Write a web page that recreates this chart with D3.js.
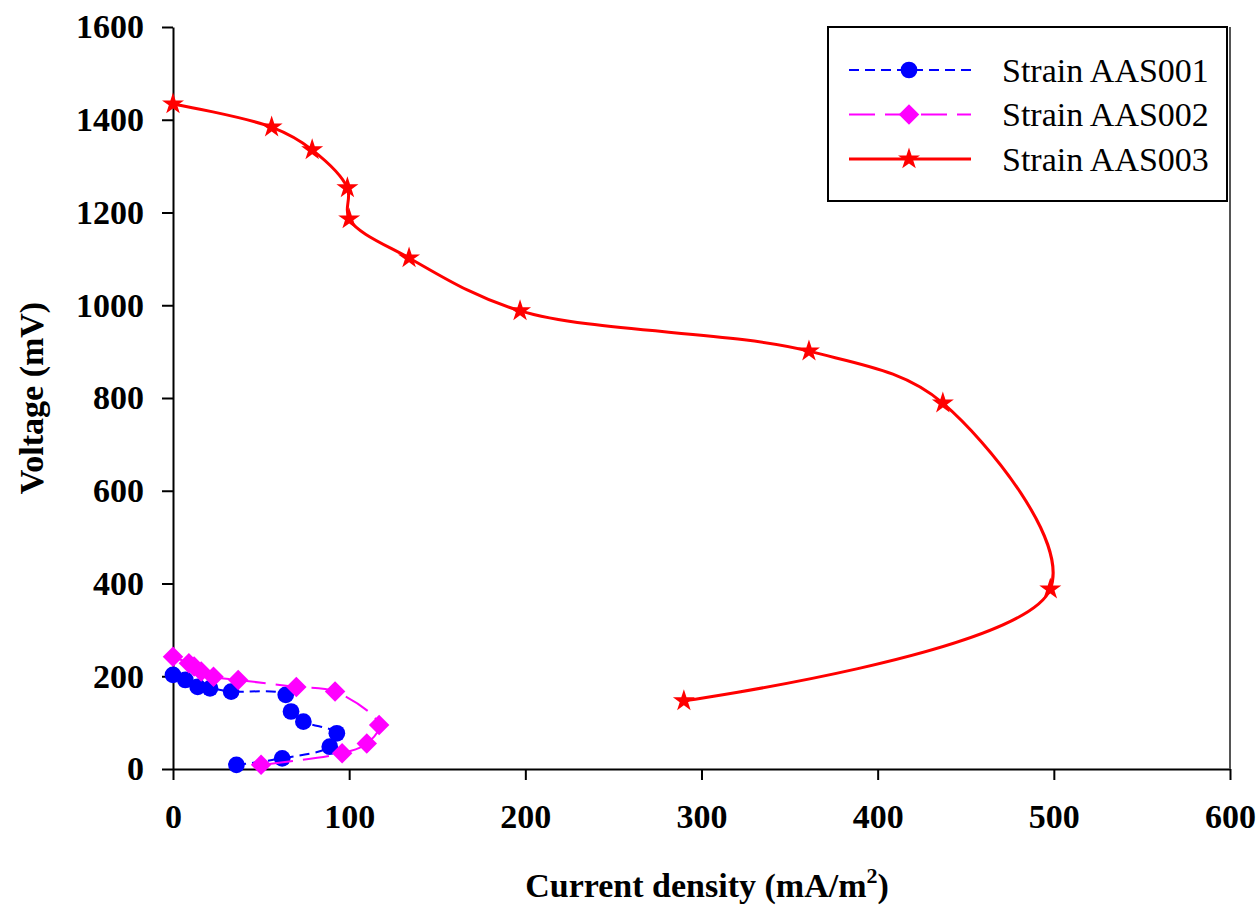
<!DOCTYPE html>
<html>
<head>
<meta charset="utf-8">
<script src="https://cdn.jsdelivr.net/npm/d3@7"></script>
<style>
  body { margin: 0; background: #fff; }
  svg { display: block; }
</style>
</head>
<body>
<div id="chart"></div>
<script>
// Polarization curves
const currentAAS001 = [0, 7, 14, 21, 33, 64, 67, 74, 93, 89, 62, 36];
const voltageAAS001 = [203, 192, 177, 174, 167, 160, 124, 102, 77, 48, 23, 9];

const currentAAS002 = [0, 9, 12, 16, 23, 37, 70, 92, 117, 110, 96, 50];
const voltageAAS002 = [242, 228, 221, 210, 199, 192, 177, 167, 95, 55, 34, 9];

const currentAAS003 = [0, 56, 79, 99, 100, 134, 197, 361, 437, 498, 290];
const voltageAAS003 = [1434, 1384, 1335, 1253, 1186, 1102, 988, 901, 789, 388, 147];

const seriesNames = ["Strain AAS001", "Strain AAS002", "Strain AAS003"];
const xTicks = [0, 100, 200, 300, 400, 500, 600];
const yTicks = [0, 200, 400, 600, 800, 1000, 1200, 1400, 1600];

const serif = "'Liberation Serif', 'Times New Roman', Times, serif";

// Dimensions
const W = 1260, H = 907;
const margin = { top: 27, right: 30, bottom: 138, left: 173 };
const width = W - margin.left - margin.right;
const height = H - margin.top - margin.bottom;

const svg = d3.select("#chart").append("svg")
    .attr("width", W)
    .attr("height", H)
    .style("font-family", serif);

const g = svg.append("g")
    .attr("transform", `translate(${margin.left},${margin.top})`);

const x = d3.scaleLinear().domain([0, 600]).range([0, width]);
const y = d3.scaleLinear().domain([0, 1600]).range([height, 0]);

// Axes
const xAxis = g.append("g")
    .attr("transform", `translate(0,${height})`)
    .call(d3.axisBottom(x).tickValues(xTicks).tickFormat(d3.format("d"))
        .tickSize(11).tickPadding(24).tickSizeOuter(0));
const yAxis = g.append("g")
    .call(d3.axisLeft(y).tickValues(yTicks).tickFormat(d3.format("d"))
        .tickSize(11).tickPadding(18).tickSizeOuter(0));

[xAxis, yAxis].forEach(ax => {
    ax.attr("font-family", serif);
    ax.select(".domain").attr("stroke", "#000").attr("stroke-width", 2);
    ax.selectAll(".tick line").attr("stroke", "#000").attr("stroke-width", 2);
    ax.selectAll(".tick text")
        .attr("fill", "#000")
        .style("font-family", serif)
        .style("font-weight", "bold")
        .style("font-size", "34px");
});
xAxis.selectAll(".tick text").attr("dy", "0.71em");

// right border of plot area
g.append("line")
    .attr("x1", width).attr("x2", width)
    .attr("y1", 0).attr("y2", height)
    .attr("stroke", "#555")
    .attr("stroke-width", 2);

// Series
const series = [
    { name: seriesNames[0], xs: currentAAS001, ys: voltageAAS001, color: "#0000ff",
      dash: "10,6", width: 2, symbol: d3.symbolCircle, size: 220, rotate: 0 },
    { name: seriesNames[1], xs: currentAAS002, ys: voltageAAS002, color: "#ff00ff",
      dash: "26,10", width: 2, symbol: d3.symbolSquare, size: 210, rotate: 45 },
    { name: seriesNames[2], xs: currentAAS003, ys: voltageAAS003, color: "#ff0000",
      dash: null, width: 3, symbol: d3.symbolStar, size: 150, rotate: 0 }
];

const line = d3.line()
    .x(d => x(d[0]))
    .y(d => y(d[1]))
    .curve(d3.curveCatmullRom.alpha(0.5));

series.forEach(s => {
    const pts = s.xs.map((v, i) => [v, s.ys[i]]);
    const sg = g.append("g");
    sg.append("path")
        .datum(pts)
        .attr("fill", "none")
        .attr("stroke", s.color)
        .attr("stroke-width", s.width)
        .attr("stroke-dasharray", s.dash)
        .attr("d", line);
    sg.selectAll("path.pt")
        .data(pts)
        .join("path")
        .attr("class", "pt")
        .attr("transform", d => `translate(${x(d[0])},${y(d[1])}) rotate(${s.rotate})`)
        .attr("d", d3.symbol(s.symbol, s.size))
        .attr("fill", s.color);
});

// Legend
const legend = svg.append("g").attr("transform", "translate(828,27)");
legend.append("rect")
    .attr("width", 399)
    .attr("height", 174)
    .attr("fill", "#fff")
    .attr("stroke", "#000")
    .attr("stroke-width", 2);

series.forEach((s, i) => {
    const row = legend.append("g").attr("transform", `translate(0,${43 + i * 44.5})`);
    row.append("line")
        .attr("x1", 21).attr("x2", 143)
        .attr("stroke", s.color)
        .attr("stroke-width", s.width)
        .attr("stroke-dasharray", s.dash);
    row.append("path")
        .attr("transform", `translate(81,0) rotate(${s.rotate})`)
        .attr("d", d3.symbol(s.symbol, s.size))
        .attr("fill", s.color);
    row.append("text")
        .attr("x", 174)
        .attr("dy", "0.35em")
        .style("font-family", serif)
        .style("font-size", "34px")
        .text(s.name);
});

// Axis titles
svg.append("text")
    .attr("transform", `translate(43,${margin.top + height / 2}) rotate(-90)`)
    .attr("text-anchor", "middle")
    .style("font-family", serif)
    .style("font-size", "34px")
    .style("font-weight", "bold")
    .text("Voltage (mV)");

const xt = svg.append("text")
    .attr("x", 707)
    .attr("y", 897)
    .attr("text-anchor", "middle")
    .style("font-family", serif)
    .style("font-size", "34px")
    .style("font-weight", "bold");
xt.append("tspan").text("Current density (mA/m");
xt.append("tspan").attr("dy", -14).style("font-size", "22px").text("2");
xt.append("tspan").attr("dy", 14).text(")");
</script>
</body>
</html>
